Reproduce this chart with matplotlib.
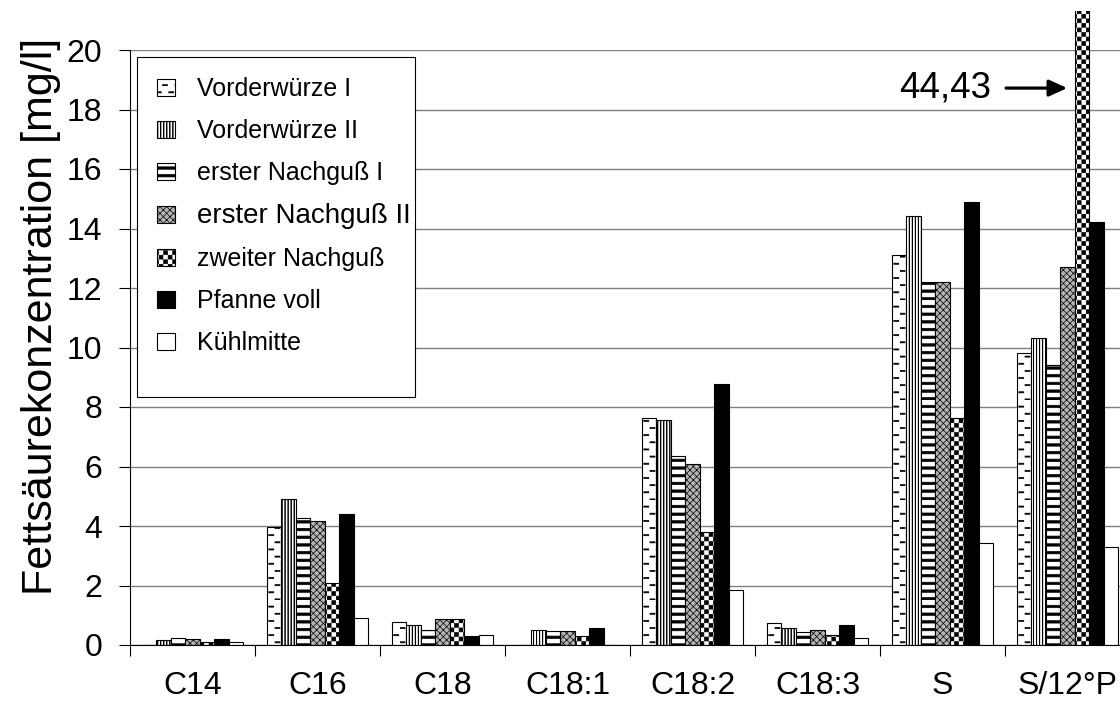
import numpy as np
import matplotlib.pyplot as plt
import matplotlib.hatch as mhatch
from matplotlib.path import Path
from matplotlib.patches import Rectangle

plt.rcParams['font.family'] = ['Liberation Sans', 'DejaVu Sans']
plt.rcParams['hatch.linewidth'] = 0.5

categories = ["C14", "C16", "C18", "C18:1", "C18:2", "C18:3", "S", "S/12°P"]
series = ["Vorderwürze I", "Vorderwürze II", "erster Nachguß I", "erster Nachguß II",
          "zweiter Nachguß", "Pfanne voll", "Kühlmitte"]

vorderwuerze_1 = [0.0, 3.97, 0.76, 0.0, 7.64, 0.73, 13.12, 9.81]
vorderwuerze_2 = [0.17, 4.90, 0.67, 0.51, 7.56, 0.56, 14.41, 10.33]
erster_nachguss_1 = [0.24, 4.27, 0.49, 0.47, 6.35, 0.44, 12.21, 9.41]
erster_nachguss_2 = [0.19, 4.17, 0.89, 0.47, 6.10, 0.49, 12.21, 12.72]
zweiter_nachguss = [0.10, 2.08, 0.89, 0.30, 3.81, 0.34, 7.63, 44.43]
pfanne_voll = [0.19, 4.40, 0.30, 0.56, 8.77, 0.68, 14.90, 14.22]
kuehlmitte = [0.11, 0.92, 0.32, 0.0, 1.85, 0.22, 3.42, 3.30]

values = [vorderwuerze_1, vorderwuerze_2, erster_nachguss_1, erster_nachguss_2,
          zweiter_nachguss, pfanne_voll, kuehlmitte]


# Excel-like fill patterns: filled rectangles inside one hatch tile (unit square)
def dash_rects():
    rows, cols = 14, 8
    out = []
    for r in range(rows):
        shift = 0.5 / cols if r % 2 else 0.0
        for c in range(cols):
            out.append((c / cols + shift, r / rows, 0.05, 0.011))
    return out


def vline_rects():
    n = 33
    return [(c / n, 0.0, 0.004, 1.0) for c in range(n)]


def hline_rects():
    n = 13
    return [(0.0, r / n, 1.0, 0.024) for r in range(n)]


def checker_rects():
    n = 22
    s = 1.0 / n
    return [(c * s, r * s, s - 0.007, s - 0.007)
            for r in range(n) for c in range(n) if (r + c) % 2 == 0]


class TileHatch(mhatch.HatchPatternBase):
    def __init__(self, hatch, density):
        self.rects = []
        if '.' in hatch:
            self.rects += dash_rects()
        if '|' in hatch:
            self.rects += vline_rects()
        if '-' in hatch:
            self.rects += hline_rects()
        if 'O' in hatch:
            self.rects += checker_rects()
        self.num_vertices = 5 * len(self.rects)

    def set_vertices_and_codes(self, vertices, codes):
        for i, (x0, y0, w, h) in enumerate(self.rects):
            vertices[5 * i:5 * i + 5] = [(x0, y0), (x0 + w, y0), (x0 + w, y0 + h),
                                         (x0, y0 + h), (x0, y0)]
            codes[5 * i:5 * i + 5] = [Path.MOVETO, Path.LINETO, Path.LINETO,
                                      Path.LINETO, Path.CLOSEPOLY]


mhatch._hatch_types = [mhatch.NorthEastHatch, mhatch.SouthEastHatch, TileHatch]

hatches = ['.', '|', '-', 'xxxxx', 'O', None, None]
faces = ['white', 'white', 'white', '#b4b4b4', 'white', 'black', 'white']

fig = plt.figure(figsize=(11.2, 7.11), dpi=100)
ax = fig.add_axes([130 / 1120, 66 / 711, 1000 / 1120, 595 / 711])

x = np.arange(len(categories))
width = 0.116
ymax_drawn = 21.3

for j, vals in enumerate(values):
    bars = ax.bar(x + (j - 3) * width, vals, width, color=faces[j], edgecolor='black',
                  hatch=hatches[j], linewidth=0.8, label=series[j], zorder=3)
    for b, v in zip(bars, vals):
        if v > 20:
            # bar runs past the axis top and is cut a bit above it
            clip = Rectangle((-0.5, 0), len(categories), ymax_drawn, transform=ax.transData)
            b.set_clip_path(clip)

ax.set_xlim(-0.5, len(categories) - 0.5)
ax.set_ylim(0, 20)
ax.set_yticks(np.arange(0, 21, 2))
ax.set_xticks(x)
ax.set_xticklabels(categories)
ax.set_xticks(np.arange(-0.5, len(categories)), minor=True)
ax.tick_params(axis='x', which='major', length=0, pad=19, labelsize=23)
ax.tick_params(axis='x', which='minor', length=8, width=0.8, direction='out')
ax.tick_params(axis='y', length=8, width=0.8, pad=12, labelsize=23)

ax.yaxis.grid(True, color='#808080', linewidth=1.0, zorder=0)
ax.set_axisbelow(True)
for side in ['top', 'right']:
    ax.spines[side].set_visible(False)
for side in ['left', 'bottom']:
    ax.spines[side].set_linewidth(0.8)
    ax.spines[side].set_zorder(4)

ax.set_ylabel("Fettsäurekonzentration [mg/l]", fontsize=31)
ax.yaxis.set_label_coords(-0.069, 0.553)

# label for the cut bar
over = len(categories) - 1
tip_x = over + (4 - 3) * width - width / 2 - 0.06
ax.annotate("", xy=(tip_x, 18.72), xytext=(tip_x - 0.49, 18.72),
            arrowprops=dict(arrowstyle='-|>,head_length=0.55,head_width=0.25',
                            lw=2.3, color='black', mutation_scale=20,
                            shrinkA=0, shrinkB=0))
ax.text(tip_x - 0.61, 18.72, "44,43", fontsize=26.5, ha='right', va='center')

# legend box drawn separately, it has extra room below the last entry
box = Rectangle((0.007, 0.4168), 0.278, 0.988 - 0.4168, transform=ax.transAxes,
                facecolor='white', edgecolor='black', linewidth=0.8, zorder=5)
ax.add_patch(box)
leg = ax.legend(loc='upper left', bbox_to_anchor=(0.007, 0.988), borderaxespad=0,
                fontsize=18, frameon=False, handlelength=0.7, handleheight=0.7,
                handletextpad=0.9, labelspacing=0.72, borderpad=0.8)
leg.set_zorder(6)
leg.get_texts()[3].set_fontsize(20)

fig.savefig("out.png", dpi=100)
